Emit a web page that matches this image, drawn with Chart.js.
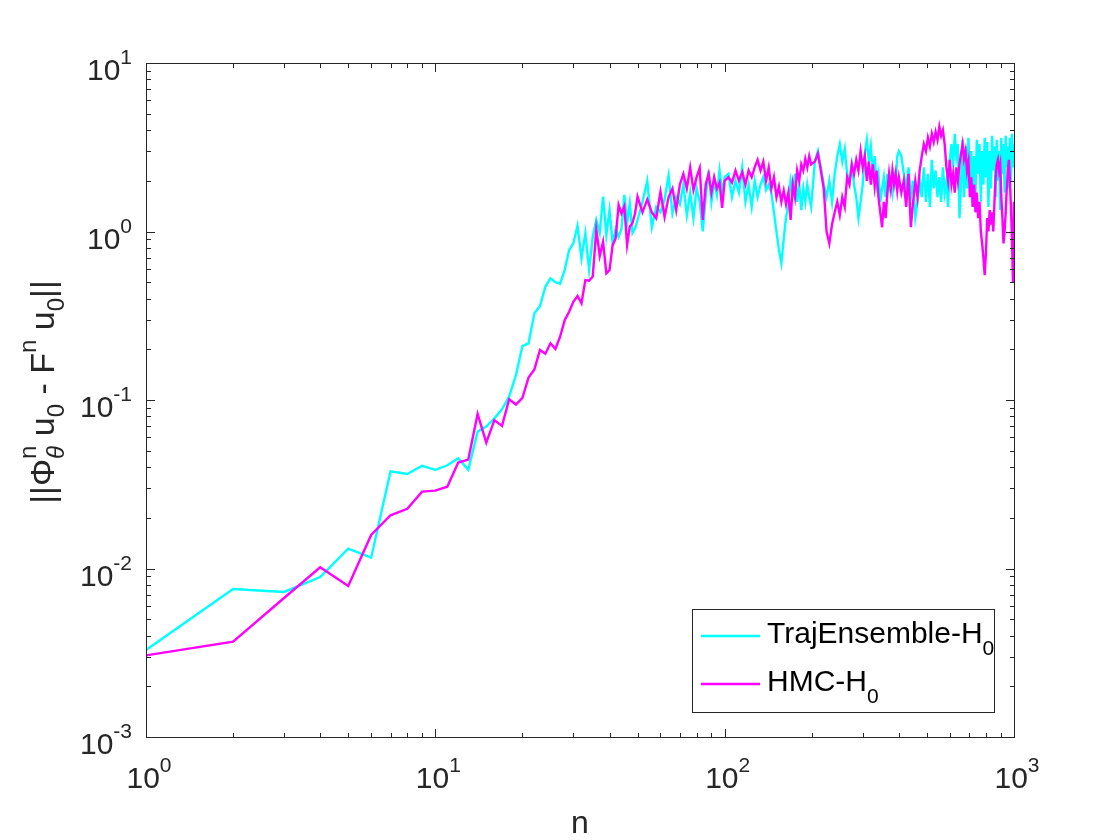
<!DOCTYPE html>
<html>
<head>
<meta charset="utf-8">
<title>Error growth</title>
<script src="https://cdn.jsdelivr.net/npm/chart.js@4.4.1/dist/chart.umd.min.js"></script>
<style>
  html, body { margin: 0; padding: 0; background: #ffffff; }
  #wrap { width: 1120px; height: 840px; }
</style>
</head>
<body>
<div id="wrap"><canvas id="errorChart" width="1120" height="840"></canvas></div>
<script>
// step index n (x axis)
const steps = [
  1, 2, 3, 4, 5, 6, 7, 8, 9, 10, 11, 12, 13, 14, 15, 16, 17, 18, 19, 20,
  21, 22, 23, 24, 25, 26, 27, 28, 29, 30, 31, 32, 33, 34, 35, 36, 37, 38, 39, 40,
  41, 42, 43, 44, 45, 46, 47, 48, 49, 50,
  52, 54, 56, 58, 60, 62, 64, 66, 68, 70, 72, 74, 76, 78, 80, 82, 84, 86, 88, 90, 92, 94, 96, 98, 100,
  103, 106, 109, 112, 115, 118, 121, 124, 127, 130, 133, 136, 139, 142, 145, 148, 151, 154, 157, 160,
  163, 166, 169, 172, 175, 178, 181, 184, 187, 190, 193, 196, 199,
  205, 210, 215, 220, 225, 230, 235, 240, 245, 250, 255, 260, 265, 270, 275, 280, 285, 290, 295, 300,
  305, 310, 315, 320, 325, 330, 335, 340, 345, 350, 355, 360, 365, 370, 375, 380, 385, 390, 395, 400,
  408, 416, 424, 432, 440, 448, 456, 464, 472, 480, 488, 496, 504, 512, 520, 528, 536, 544, 552, 560,
  568, 576, 584, 592, 600, 608, 616, 624, 632, 640, 648, 656, 664, 672, 680, 688, 696, 704, 712, 720,
  728, 736, 744, 752, 760, 768, 776, 784, 792, 800, 808, 816, 824, 832, 840, 848, 856, 864, 872, 880,
  888, 896, 904, 912, 920, 928, 936, 944, 952, 960, 968, 976, 984, 992, 1000,
]

const trajEnsemble = [
  0.00328, 0.00755, 0.00726, 0.0089, 0.0131, 0.0116, 0.0377, 0.0364, 0.0407, 0.0385,
  0.041, 0.0451, 0.0385, 0.0649, 0.0695, 0.0778, 0.088, 0.105, 0.141, 0.209,
  0.217, 0.327, 0.361, 0.47, 0.527, 0.5, 0.49, 0.592, 0.776, 0.851,
  1.08, 0.693, 0.98, 0.59, 0.93, 1.17, 0.98, 1.61, 0.95, 1.34,
  0.85, 1.04, 0.93, 1.04, 1.65, 1.12, 1.47, 0.98, 1.04, 1.17,
  // 52..100
  1.5, 2.0, 1.06, 1.4, 1.3, 1.55, 2.15, 1.28, 1.6, 1.45, 1.9, 1.25, 1.7, 1.2, 1.8,
  1.5, 1.0, 1.6, 2.3, 1.5, 2.0, 1.65, 2.3, 1.7, 2.1,
  // 103..199
  2.2, 1.6, 2.0, 1.7, 2.4, 1.5, 1.9, 1.4, 2.0, 1.6, 1.9, 2.1, 1.76, 1.9, 1.7, 1.3, 1.0,
  0.78, 0.65, 0.9, 1.22, 1.4, 2.0, 1.7, 2.2, 1.5, 1.9, 1.34, 1.8, 1.5, 1.9, 1.6, 1.4,
  // 205..400
  2.6, 3.0, 2.4, 1.9, 1.6, 2.0, 1.5, 2.2, 2.8, 3.3, 2.6, 3.1, 2.2, 2.0, 2.5, 1.9, 1.6, 1.2, 1.5, 1.9,
  2.9, 3.5, 2.6, 3.2, 2.2, 2.8, 1.9, 2.2, 1.5, 1.8, 2.1, 1.6, 2.2, 1.8, 2.0, 1.7, 2.2, 2.0, 2.8, 3.0,
  // 408..1000
  2.8, 2.2, 1.8, 2.4, 1.6, 2.0, 1.22, 1.5, 2.0, 1.6, 2.4, 1.5, 2.2, 1.4, 2.66, 1.8, 2.3, 1.6, 2.1, 1.5,
  2.4, 1.7, 2.0, 1.4, 2.66, 3.3, 2.4, 3.8, 2.8, 3.3, 1.2, 1.9, 3.5, 1.6, 3.2, 1.8, 3.6, 2.0, 3.0, 1.4,
  2.8, 1.7, 3.5, 2.2, 3.3, 1.5, 3.0, 1.9, 3.6, 2.1, 3.4, 1.4, 3.0, 1.8, 3.7, 2.3, 3.2, 1.6, 3.5, 2.0,
  3.0, 1.34, 3.6, 2.2, 3.3, 1.7, 3.7, 2.4, 3.2, 1.8, 3.6, 2.0, 3.8, 2.4, 3.3,
]

const hmc = [
  0.00305, 0.00368, 0.00668, 0.01016, 0.00787, 0.0158, 0.0207, 0.0226, 0.0286, 0.029,
  0.0306, 0.0425, 0.0443, 0.0826, 0.0558, 0.076, 0.0702, 0.101, 0.094, 0.103,
  0.136, 0.152, 0.198, 0.188, 0.217, 0.201, 0.238, 0.298, 0.334, 0.383,
  0.414, 0.375, 0.515, 0.51, 0.54, 1.03, 0.716, 0.869, 0.565, 0.59,
  0.83, 0.91, 1.44, 1.28, 1.41, 0.83, 1.07, 1.12, 1.28, 1.61,
  // 52..100
  1.3, 1.55, 1.3, 1.2, 1.72, 1.22, 1.6, 1.8, 1.34, 1.9, 2.2, 1.8, 2.4, 1.76, 2.1,
  2.38, 1.17, 1.9, 2.2, 1.7, 2.1, 1.8, 1.95, 1.38, 2.0,
  // 103..199
  2.1, 1.95, 2.3, 2.0, 2.25, 1.9, 2.3, 2.1, 2.4, 2.66, 2.3, 2.6, 2.0, 2.4, 1.8, 2.1, 1.6,
  1.85, 1.5, 1.75, 1.45, 1.7, 1.17, 1.9, 1.6, 2.3, 2.0, 2.5, 2.3, 2.7, 2.4, 2.8, 2.5,
  // 205..400
  2.6, 2.9, 2.3, 1.8, 1.0, 0.85, 1.1, 1.3, 1.5, 1.25, 1.6, 1.4, 2.1, 1.9, 2.5, 2.2, 2.66, 2.3, 3.0, 2.4,
  2.8, 2.0, 2.6, 1.9, 2.5, 1.85, 2.3, 1.6, 1.3, 1.06, 1.5, 1.2, 1.7, 2.2, 1.8, 2.3, 1.9, 2.2, 1.75, 2.1,
  // 408..1000
  1.7, 2.0, 1.4, 2.2, 1.06, 1.5, 2.0, 1.6, 2.3, 2.8, 3.3, 3.0, 3.6, 3.2, 3.8, 3.4, 3.9, 3.5, 4.2, 3.7,
  4.0, 3.3, 2.4, 2.0, 2.66, 1.9, 2.2, 1.7, 2.4, 2.0, 2.5, 2.9, 3.3, 2.7, 3.0, 2.3, 2.6, 1.6, 2.1, 1.4,
  1.9, 1.3, 1.7, 1.2, 1.5, 1.0, 0.85, 0.7, 0.55, 0.75, 1.2, 1.0, 1.34, 1.1, 1.3, 1.0, 1.5, 2.1, 2.5, 2.66,
  2.3, 2.5, 1.6, 1.2, 0.85, 1.0, 1.3, 1.8, 2.3, 2.66, 2.0, 1.4, 0.9, 0.5, 1.5,
]

const xTickValues = [1, 10, 100, 1000]
const xTickExponents = ["0", "1", "2", "3"]
const yTickValues = [0.001, 0.01, 0.1, 1, 10]
const yTickExponents = ["-3", "-2", "-1", "0", "1"]
const seriesNames = ["TrajEnsemble-H", "HMC-H"]
const seriesColors = ["#00ffff", "#ff00ff"]

const FONT = '"Liberation Sans", Helvetica, Arial, sans-serif'
const AXIS_COLOR = "#262626"

function font(size, italic) {
  return (italic ? "italic " : "") + size + "px " + FONT
}

// draws a list of text runs; each run {t, size, dy, italic} or {stack: [run, run]}
function drawRuns(ctx, runs, x, y, measureOnly) {
  let cx = x
  runs.forEach((r) => {
    if (r.stack) {
      let w = 0
      r.stack.forEach((s) => {
        ctx.font = font(s.size, s.italic)
        if (!measureOnly) ctx.fillText(s.t, cx, y + (s.dy || 0))
        w = Math.max(w, ctx.measureText(s.t).width)
      })
      cx += w
    } else {
      ctx.font = font(r.size, r.italic)
      if (!measureOnly) ctx.fillText(r.t, cx, y + (r.dy || 0))
      cx += ctx.measureText(r.t).width
    }
  })
  return cx - x
}

function powerRuns(exp) {
  return [
    { t: "10", size: 30 },
    { t: exp, size: 21, dy: -16 },
  ]
}

const matlabAxes = {
  id: "matlabAxes",
  afterDraw(chart) {
    const ctx = chart.ctx
    const area = chart.chartArea
    const xs = chart.scales.x
    const ys = chart.scales.y
    const L = Math.round(area.left) + 0.5
    const R = Math.round(area.right) + 0.5
    const T = Math.round(area.top) + 0.5
    const B = Math.round(area.bottom) + 0.5

    ctx.save()
    ctx.strokeStyle = AXIS_COLOR
    ctx.lineWidth = 1
    ctx.strokeRect(L, T, R - L, B - T)

    // ticks on all four sides, pointing inward
    ctx.beginPath()
    for (let d = 0; d < 3; d++) {
      for (let m = 1; m <= 9; m++) {
        const v = m * Math.pow(10, d)
        const px = Math.round(xs.getPixelForValue(v)) + 0.5
        const len = m === 1 ? 8.5 : 4.5
        ctx.moveTo(px, B); ctx.lineTo(px, B - len)
        ctx.moveTo(px, T); ctx.lineTo(px, T + len)
      }
    }
    for (let d = -3; d < 1; d++) {
      for (let m = 1; m <= 9; m++) {
        const v = m * Math.pow(10, d)
        const py = Math.round(ys.getPixelForValue(v)) + 0.5
        const len = m === 1 ? 8.5 : 4.5
        ctx.moveTo(L, py); ctx.lineTo(L + len, py)
        ctx.moveTo(R, py); ctx.lineTo(R - len, py)
      }
    }
    ctx.stroke()

    // tick labels
    ctx.fillStyle = AXIS_COLOR
    ctx.textBaseline = "alphabetic"
    ctx.textAlign = "left"
    xTickValues.forEach((v, i) => {
      const runs = powerRuns(xTickExponents[i])
      const w = drawRuns(ctx, runs, 0, 0, true)
      const px = xs.getPixelForValue(v)
      drawRuns(ctx, runs, px - w / 2 + 3, area.bottom + 51)
    })
    yTickValues.forEach((v, i) => {
      const runs = powerRuns(yTickExponents[i])
      const w = drawRuns(ctx, runs, 0, 0, true)
      const py = ys.getPixelForValue(v)
      drawRuns(ctx, runs, area.left - 14 - w, py + 17)
    })

    // x label
    ctx.font = font(32)
    ctx.textAlign = "center"
    ctx.fillText("n", (area.left + area.right) / 2, 833)

    // y label  ||Φ^n_θ u_0 - F^n u_0||
    ctx.textAlign = "left"
    const yLabel = [
      { t: "||Φ", size: 34 },
      { stack: [{ t: "n", size: 24, dy: -18 }, { t: "θ", size: 24, dy: 10, italic: true }] },
      { t: " u", size: 34 },
      { t: "0", size: 24, dy: 10 },
      { t: " - F", size: 34 },
      { t: "n", size: 24, dy: -18 },
      { t: " u", size: 34 },
      { t: "0", size: 24, dy: 10 },
      { t: "||", size: 34 },
    ]
    const lw = drawRuns(ctx, yLabel, 0, 0, true)
    ctx.translate(54, 392)
    ctx.rotate(-Math.PI / 2)
    drawRuns(ctx, yLabel, -lw / 2, 0)
    ctx.restore()
  },
}

const matlabLegend = {
  id: "matlabLegend",
  afterDraw(chart) {
    const ctx = chart.ctx
    ctx.save()
    ctx.fillStyle = "#ffffff"
    ctx.fillRect(692, 609, 302, 103)
    ctx.strokeStyle = AXIS_COLOR
    ctx.lineWidth = 1
    ctx.strokeRect(692.5, 609.5, 302, 103)
    const rows = [636, 684]
    seriesNames.forEach((name, i) => {
      ctx.strokeStyle = seriesColors[i]
      ctx.lineWidth = 2.4
      ctx.beginPath()
      ctx.moveTo(701, rows[i])
      ctx.lineTo(760, rows[i])
      ctx.stroke()
      ctx.fillStyle = "#000000"
      drawRuns(ctx, [{ t: name, size: 30 }, { t: "0", size: 21, dy: 12 }], 767, rows[i] + 7)
    })
    ctx.restore()
  },
}

const toPoints = (values) => steps.map((n, i) => ({ x: n, y: values[i] }))

const ctx = document.getElementById("errorChart").getContext("2d")
const errorChart = new Chart(ctx, {
  type: "line",
  data: {
    datasets: [
      {
        label: seriesNames[0] + "0",
        data: toPoints(trajEnsemble),
        borderColor: seriesColors[0],
        borderWidth: 2.4,
        pointRadius: 0,
        tension: 0,
        fill: false,
        order: 1,
      },
      {
        label: seriesNames[1] + "0",
        data: toPoints(hmc),
        borderColor: seriesColors[1],
        borderWidth: 2.4,
        pointRadius: 0,
        tension: 0,
        fill: false,
        order: 0,
      },
    ],
  },
  options: {
    responsive: false,
    animation: false,
    layout: { padding: { left: 146, right: 106, top: 63, bottom: 103 } },
    plugins: {
      legend: { display: false },
      tooltip: { enabled: false },
    },
    scales: {
      x: { type: "logarithmic", min: 1, max: 1000, display: false },
      y: { type: "logarithmic", min: 0.001, max: 10, display: false },
    },
  },
  plugins: [matlabAxes, matlabLegend],
})
</script>
</body>
</html>
